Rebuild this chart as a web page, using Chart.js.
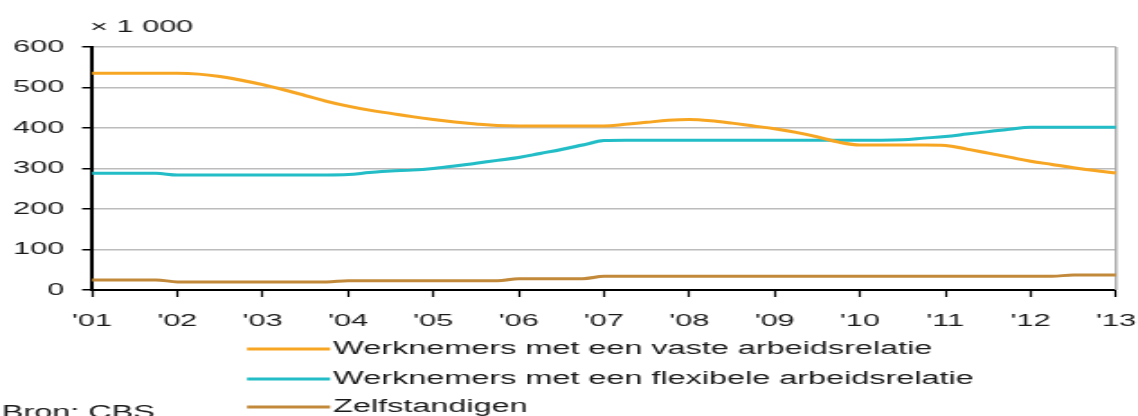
<!DOCTYPE html>
<html lang="nl">
<head>
<meta charset="utf-8">
<title>Werkzame beroepsbevolking naar arbeidsrelatie</title>
<script src="https://cdn.jsdelivr.net/npm/chart.js@4.4.1/dist/chart.umd.min.js"></script>
<style>
  html, body { margin: 0; padding: 0; background: #fff; overflow: hidden; }
  #wrap { width: 632px; height: 416px; transform: scaleX(1.8006); transform-origin: 0 0; }
  #c { display: block; }
</style>
</head>
<body>
<div id="wrap"><canvas id="c" width="632" height="416"></canvas></div>
<script>
// Jaarlabels op de horizontale as
const jaren = ["'01", "'02", "'03", "'04", "'05", "'06", "'07", "'08", "'09", "'10", "'11", "'12", "'13"];

// Kwartalen 2001K1 t/m 2013K1
const kwartalen = [];
for (let j = 2001; j <= 2013; j++) {
  for (let k = 1; k <= 4; k++) {
    if (j === 2013 && k > 1) break;
    kwartalen.push(j + 'K' + k);
  }
}

// Aantallen x 1 000 per kwartaal
const vast = [
  535, 535, 535, 535,
  535, 533, 527, 518,
  507, 494, 480, 466,
  454, 444, 436, 428,
  421, 415, 410, 406,
  405, 405, 405, 405,
  405, 409, 414, 419,
  421, 418, 412, 405,
  398, 389, 378, 365,
  358, 358, 358, 358,
  357, 348, 338, 328,
  318, 310, 302, 295,
  289
];
const flexibel = [
  288, 288, 288, 288,
  284, 284, 284, 284,
  284, 284, 284, 284,
  285, 290, 294, 296,
  300, 306, 313, 320,
  327, 337, 347, 358,
  369, 370, 370, 370,
  370, 370, 370, 370,
  370, 370, 370, 370,
  370, 370, 371, 375,
  379, 385, 391, 397,
  402, 402, 402, 402,
  402
];
const zelfstandigen = [
  25, 25, 25, 25,
  20, 20, 20, 20,
  20, 20, 20, 20,
  23, 23, 23, 23,
  23, 23, 23, 23,
  28, 28, 28, 28,
  34, 34, 34, 34,
  34, 34, 34, 34,
  34, 34, 34, 34,
  34, 34, 34, 34,
  34, 34, 34, 34,
  34, 34, 37, 37,
  37
];

const reeksen = [
  { label: 'Werknemers met een vaste arbeidsrelatie', data: vast, color: '#F7A623' },
  { label: 'Werknemers met een flexibele arbeidsrelatie', data: flexibel, color: '#22BDC6' },
  { label: 'Zelfstandigen', data: zelfstandigen, color: '#C2893B' }
];

const FONT = 'Arial, "Liberation Sans", sans-serif';
const TEXT = '#1a1a1a';

// Eenheid, rechterrand, legenda en bronvermelding
const decor = {
  id: 'decor',
  beforeDatasetsDraw(chart) {
    const { ctx, chartArea } = chart;
    ctx.save();
    ctx.strokeStyle = '#a8a8a8';
    ctx.lineWidth = 1.4;
    ctx.beginPath();
    ctx.moveTo(chartArea.right, chartArea.top);
    ctx.lineTo(chartArea.right, chartArea.bottom);
    ctx.stroke();
    ctx.restore();
  },
  afterDraw(chart) {
    const { ctx, chartArea } = chart;
    ctx.save();
    ctx.fillStyle = TEXT;
    ctx.textBaseline = 'middle';
    ctx.textAlign = 'left';
    ctx.font = '17px ' + FONT;
    ctx.fillText('\u00d7 1 000', chartArea.left - 1, 27);

    const rijen = [349, 379, 407];
    ctx.font = '18px ' + FONT;
    chart.data.datasets.forEach((ds, i) => {
      const y = rijen[i];
      ctx.strokeStyle = ds.borderColor;
      ctx.lineWidth = 3;
      ctx.beginPath();
      ctx.moveTo(137.2, y);
      ctx.lineTo(183.3, y);
      ctx.stroke();
      ctx.fillStyle = TEXT;
      ctx.fillText(ds.label, 185, y);
    });

    ctx.font = '18px ' + FONT;
    ctx.fillText('Bron: CBS', 1, 413);
    ctx.restore();
  }
};

new Chart(document.getElementById('c'), {
  type: 'line',
  data: {
    labels: kwartalen,
    datasets: reeksen.map(r => ({
      label: r.label,
      data: r.data,
      borderColor: r.color,
      backgroundColor: r.color,
      borderWidth: 3,
      pointRadius: 0,
      fill: false,
      cubicInterpolationMode: 'monotone'
    }))
  },
  options: {
    responsive: false,
    animation: false,
    devicePixelRatio: 1,
    layout: { padding: { top: 47, right: 12.2, bottom: 90, left: 0 } },
    plugins: { legend: { display: false }, tooltip: { enabled: false }, title: { display: false } },
    scales: {
      x: {
        type: 'category',
        offset: false,
        afterFit(scale) {
          scale.height = 36;
          scale.paddingLeft = 0;
          scale.paddingRight = 0;
        },
        grid: {
          drawOnChartArea: false,
          drawTicks: true,
          tickLength: 7,
          tickWidth: 1.2,
          tickColor: c => (c.index % 4 === 0 ? '#000' : 'rgba(0,0,0,0)')
        },
        border: { display: true, color: '#000', width: 2 },
        ticks: {
          autoSkip: false,
          maxRotation: 0,
          minRotation: 0,
          padding: 14,
          color: TEXT,
          font: { family: FONT, size: 17 },
          callback: (v, i) => (i % 4 === 0 ? jaren[i / 4] : '')
        }
      },
      y: {
        min: 0,
        max: 600,
        afterFit(scale) { scale.width = 51.1; },
        grid: {
          color: c => (c.tick && c.tick.value === 0 ? 'rgba(0,0,0,0)' : '#bcbcbc'),
          lineWidth: 1.5,
          tickColor: '#000',
          tickLength: 5.5,
          tickWidth: 1.5
        },
        border: { display: true, color: '#000', width: 2 },
        ticks: {
          stepSize: 100,
          padding: 10,
          color: TEXT,
          font: { family: FONT, size: 17 },
          callback: v => String(v)
        }
      }
    }
  },
  plugins: [decor]
});
</script>
</body>
</html>
